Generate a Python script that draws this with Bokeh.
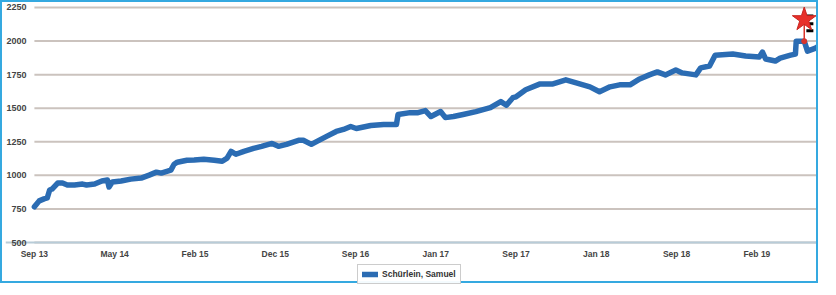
from bokeh.plotting import figure
from bokeh.models import FixedTicker, Legend, LegendItem, Range1d
from bokeh.embed import file_html
from bokeh.resources import INLINE

# match index (10 matches per labelled tick) and rating values
match_idx = [0, 0.6, 1.2, 1.6, 1.9, 2.2, 2.9, 3.5, 4.1, 5.0, 6.0, 6.5, 7.5, 8.4, 9.1, 9.3, 9.7,
             10.8, 12.0, 13.3, 14.3, 15.2, 15.8, 17.0, 17.4, 17.8, 19.0, 19.9, 21.1, 22.4, 23.4,
             24.0, 24.5, 25.1, 26.1, 27.3, 28.3, 29.6, 30.4, 31.4, 32.9, 33.5, 34.5, 35.2, 36.4,
             37.6, 38.5, 39.4, 40.1, 41.9, 43.5, 45.1, 45.3, 46.8, 47.8, 48.7, 49.4, 50.6, 51.2,
             52.2, 53.4, 55.0, 56.8, 58.1, 58.8, 59.6, 60.0, 61.2, 63.0, 64.6, 66.2, 67.5, 69.2,
             70.4, 71.7, 72.9, 74.2, 75.4, 76.6, 77.6, 78.6, 79.9, 80.7, 82.4, 83.0, 84.1, 84.8,
             87.0, 88.6, 90.3, 90.7, 91.1, 92.3, 92.9, 94.2, 94.8, 94.9, 95.9, 96.3, 97.3, 97.6]
rating = [766, 810, 825, 832, 891, 898, 943, 943, 928, 928, 935, 928, 935, 958, 965, 913, 950,
          958, 972, 980, 1002, 1024, 1017, 1039, 1083, 1098, 1113, 1115, 1120, 1113, 1105,
          1128, 1179, 1157, 1179, 1201, 1216, 1238, 1216, 1231, 1261, 1261, 1231, 1253, 1290,
          1327, 1342, 1364, 1349, 1371, 1379, 1379, 1453, 1467, 1467, 1482, 1438, 1475, 1430,
          1438, 1453, 1475, 1504, 1549, 1522, 1578, 1585, 1637, 1681, 1681, 1711, 1689, 1659,
          1622, 1659, 1674, 1674, 1718, 1748, 1770, 1748, 1785, 1763, 1748, 1800, 1814, 1895,
          1903, 1888, 1881, 1918, 1866, 1851, 1873, 1895, 1903, 1999, 1999, 1925, 1947, 1960]

tick_idx = [0, 10, 20, 30, 40, 50, 60, 70, 80, 90]
tick_labels = ["Sep 13", "May 14", "Feb 15", "Dec 15", "Sep 16", "Jan 17", "Sep 17",
               "Jan 18", "Sep 18", "Feb 19"]
y_ticks = [500, 750, 1000, 1250, 1500, 1750, 2000, 2250]
x_first, x_last = 0, 97.8
y_axis_min = 500

star_idx = [95.9]
star_val = [2160]
peak_val = [1999]
flag_val = [2187, 2128, 2076]

series_name = "Schürlein, Samuel"
blue = "#2b6cb3"

# the frame runs past the data on every side so that the axis labels and the
# legend sit inside it; both axes use fixed locations
p = figure(width=818, height=283, output_backend="svg", toolbar_location=None,
           x_range=Range1d(-3.6, x_last), y_range=Range1d(180, 2287),
           min_border_left=3, min_border_right=1, min_border_top=0, min_border_bottom=0)
p.styles = {"border": "2px solid #35a9e0"}
p.outline_line_color = None
p.background_fill_color = "white"
p.border_fill_color = "white"

# horizontal gridlines from the first match to the right edge
p.segment(x0=[x_first] * len(y_ticks), y0=y_ticks, x1=[x_last] * len(y_ticks), y1=y_ticks,
          line_color="#cbc3be", line_width=2)

line = p.line(match_idx, rating, line_width=5.5, color=blue, line_join="round", line_cap="round")
legend_marker = p.scatter([], [], marker="diamond", size=9, color=blue)

# peak marker
p.segment(x0=star_idx, y0=peak_val, x1=star_idx, y1=star_val, line_color="#d9342b", line_width=1.5)
p.scatter(star_idx, peak_val, size=5, color="#d9342b")
p.scatter([star_idx[0] + 0.7] * 3, flag_val, marker="dash", size=7, line_color="black",
          line_width=3)
p.scatter(star_idx, star_val, marker="star", size=25, fill_color="#e8302a",
          line_color="#c82520", line_width=1)

p.xgrid.grid_line_color = None
p.ygrid.grid_line_color = None

p.xaxis.ticker = FixedTicker(ticks=tick_idx)
p.xaxis.major_label_overrides = {t: l for t, l in zip(tick_idx, tick_labels)}
p.xaxis.fixed_location = y_axis_min
p.yaxis.ticker = FixedTicker(ticks=y_ticks)
p.yaxis.fixed_location = x_first

for ax in (p.xaxis[0], p.yaxis[0]):
    ax.major_tick_line_color = None
    ax.minor_tick_line_color = None
    ax.major_tick_out = 0
    ax.major_tick_in = 0
    ax.minor_tick_out = 0
    ax.major_label_text_font = "Liberation Sans"
    ax.major_label_text_font_style = "bold"
    ax.major_label_text_color = "#444444"
p.xaxis.major_label_text_font_size = "8.5px"
p.yaxis.major_label_text_font_size = "9px"
p.yaxis.axis_line_color = None
p.yaxis.major_label_standoff = 8
p.xaxis.axis_line_color = "#b8ccd8"
p.xaxis.axis_line_width = 2
p.xaxis.major_label_standoff = 6

legend = Legend(items=[LegendItem(label=series_name, renderers=[line, legend_marker])],
                location=(352, 1), orientation="horizontal",
                label_text_font="Liberation Sans", label_text_font_style="bold",
                label_text_font_size="8.5px", label_text_color="#333333",
                glyph_width=16, glyph_height=10, label_height=10, padding=4, spacing=0,
                label_standoff=4,
                border_line_color="#9a9a9a", border_line_width=1,
                background_fill_color="white", margin=0)
p.add_layout(legend, "center")

open("out.html", "w").write(file_html(p, INLINE))
